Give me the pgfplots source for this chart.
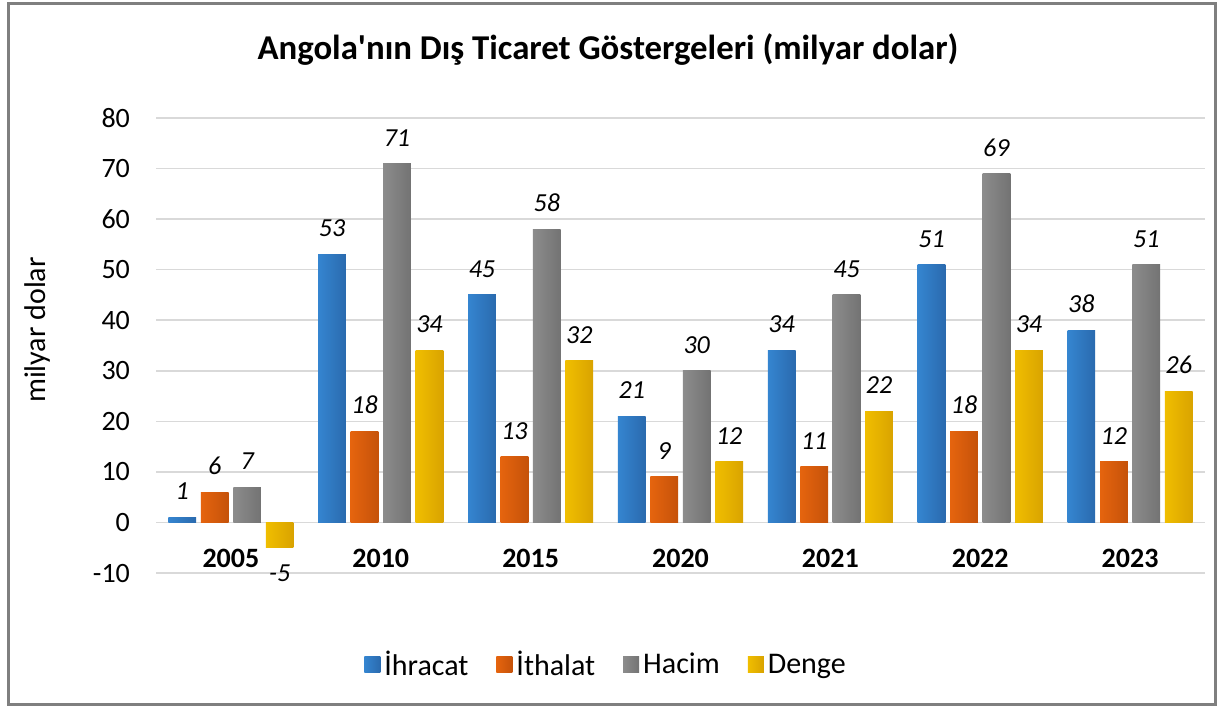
\documentclass[border=0pt]{standalone}
\usepackage{pgfplots}
\pgfplotsset{compat=1.18}
\usepackage{pgfplotstable}
\usepackage{fontspec}
\setmainfont{Carlito}
\newfontfamily\tfont{Carlito}
\definecolor{bL}{HTML}{3585D0}\definecolor{bM}{HTML}{4FA3EC}\definecolor{bR}{HTML}{2A6AAE}
\definecolor{oL}{HTML}{E5640E}\definecolor{oM}{HTML}{FF7A1E}\definecolor{oR}{HTML}{C5520A}
\definecolor{gL}{HTML}{8C8C8C}\definecolor{gM}{HTML}{ABABAB}\definecolor{gR}{HTML}{737373}
\definecolor{yL}{HTML}{F0BE00}\definecolor{yM}{HTML}{FFD81A}\definecolor{yR}{HTML}{D9A300}
\definecolor{gridc}{HTML}{D9D9D9}
\definecolor{framec}{HTML}{7F7F7F}
\pgfplotstableread{
g y l
0 1 1
1 53 53
2 45 45
3 21 21
4 34 34
5 51 51
6 38 38
}\ihr
\pgfplotstableread{
g y l
0 6 6
1 18 18
2 13 13
3 9 9
4 11 11
5 18 18
6 12 12
}\ith
\pgfplotstableread{
g y l
0 7 7
1 71 71
2 58 58
3 30 30
4 45 45
5 69 69
6 51 51
}\hac
\pgfplotstableread{
g y l
0 -5 -5
1 34 34
2 32 32
3 12 12
4 22 22
5 34 34
6 26 26
}\den
\pgfplotsset{
  sB/.style={draw=none, left color=bL, middle color=bM, right color=bR},
  sO/.style={draw=none, left color=oL, middle color=oM, right color=oR},
  sG/.style={draw=none, left color=gL, middle color=gM, right color=gR},
  sY/.style={draw=none, left color=yL, middle color=yM, right color=yR},
}
\begin{document}
\begin{tikzpicture}
\useasboundingbox (0,0) rectangle (609.5pt,354.5pt);
\fill[white] (0,0) rectangle (609.5pt,354.5pt);
\begin{axis}[
  at={(78pt,68pt)}, anchor=south west,
  width=524.5pt, height=227.5pt, scale only axis,
  xmin=-0.5, xmax=6.5, ymin=-10, ymax=80,
  xtick={0,...,6},
  xticklabels={2005,2010,2015,2020,2021,2022,2023},
  xticklabel style={font=\fontsize{14pt}{16pt}\selectfont\bfseries, anchor=center, yshift=7.5pt},
  ytick={-10,0,...,80},
  yticklabels={-10,0,10,20,30,40,50,60,70,80},
  yticklabel style={font=\fontsize{14pt}{16pt}\selectfont, xshift=-9.5pt},
  ymajorgrids, grid style={gridc, line width=0.8pt},
  axis line style={draw=none},
  major tick length=0pt,
  ybar, bar width=0.185,
  point meta=explicit symbolic,
  nodes near coords,
  every node near coord/.append style={font=\fontsize{13pt}{15pt}\selectfont\itshape, inner ysep=8.5pt, text=black, anchor=south},
  legend columns=-1,
  legend style={at={(axis description cs:0.43,-0.202)}, anchor=center, draw=none, fill=none,
    font=\fontsize{15pt}{17pt}\selectfont,
    /tikz/every even column/.append style={column sep=12pt}},
  legend image code/.code={\path[#1, draw=none] (0pt,-4pt) rectangle (8pt,4pt);},
]
\addlegendimage{sB}\addlegendentry{İhracat}
\addlegendimage{sO}\addlegendentry{İthalat}
\addlegendimage{sG}\addlegendentry{Hacim}
\addlegendimage{sY}\addlegendentry{Denge}
\pgfplotsinvokeforeach{0,...,6}{
  \addplot[sB, bar shift=-0.325, forget plot, restrict x to domain=#1:#1] table[x=g,y=y,meta=l]{\ihr};
  \addplot[sO, bar shift=-0.108, forget plot, restrict x to domain=#1:#1] table[x=g,y=y,meta=l]{\ith};
  \addplot[sG, bar shift=0.108, forget plot, restrict x to domain=#1:#1] table[x=g,y=y,meta=l]{\hac};
}
\addplot[sY, bar shift=0.325, forget plot, restrict x to domain=0:0, every node near coord/.append style={anchor=north}] table[x=g,y=y,meta=l]{\den};
\pgfplotsinvokeforeach{1,...,6}{
  \addplot[sY, bar shift=0.325, forget plot, restrict x to domain=#1:#1] table[x=g,y=y,meta=l]{\den};
}
\end{axis}
\node[font=\tfont\fontsize{17.4pt}{20pt}\selectfont\bfseries] at (304pt,329.5pt) {Angola'nın Dış Ticaret Göstergeleri (milyar dolar)};
\node[font=\fontsize{15pt}{18pt}\selectfont, rotate=90] at (18.5pt,189.5pt) {milyar dolar};
\draw[framec, line width=1.5pt] (4.25pt,2.25pt) rectangle (607.75pt,352.75pt);
\end{tikzpicture}
\end{document}
